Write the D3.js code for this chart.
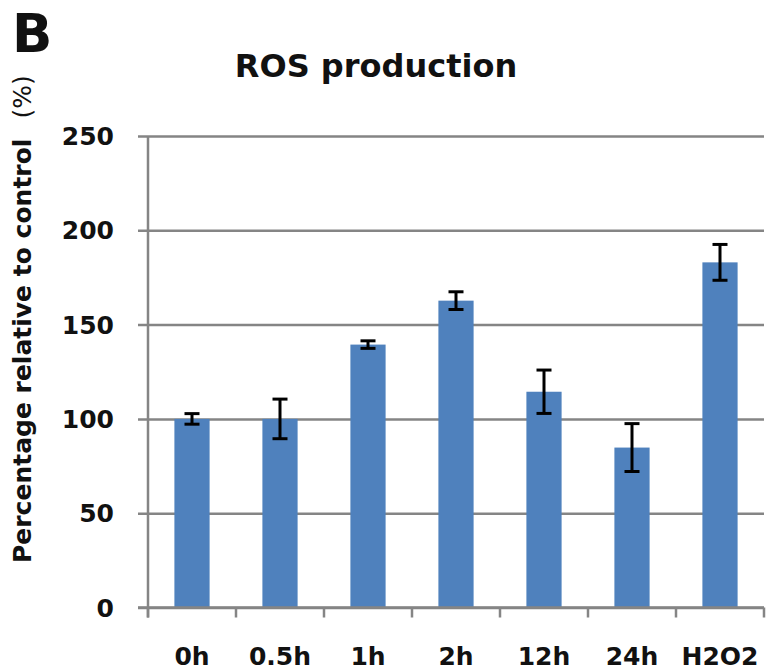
<!DOCTYPE html>
<html>
<head>
<meta charset="utf-8">
<script src="https://cdn.jsdelivr.net/npm/d3@7/dist/d3.min.js"></script>
<style>
  html, body { margin: 0; padding: 0; background: #fff; }
  svg { display: block; }
</style>
</head>
<body>
<svg id="chart" width="767" height="670"></svg>
<script>
const categories = ["0h", "0.5h", "1h", "2h", "12h", "24h", "H2O2"];
const values = [100, 100, 139.4, 162.7, 114.4, 84.8, 183];
const errors = [2.8, 10.5, 2, 4.7, 11.5, 12.7, 9.5];
const yTicks = [0, 50, 100, 150, 200, 250];

(function () {
const svg = d3.select("#chart");
const pLeft = 148, pRight = 764, pTop = 136, pBottom = 607.5;
const gridColor = "#858585";
const barColor = "#4f81bd";
const fontFam = "'DejaVu Sans', sans-serif";

const x = d3.scaleBand().domain(categories).range([pLeft, pRight])
  .paddingInner(0.6).paddingOuter(0.3);
const y = d3.scaleLinear().domain([0, 250]).range([pBottom, pTop]);

// Gridlines + y axis ticks
const yAxis = d3.axisLeft(y).tickValues(yTicks).tickSize(-(pRight - pLeft)).tickPadding(0).tickFormat("");
const gy = svg.append("g").attr("transform", `translate(${pLeft},0)`).call(yAxis);
gy.select(".domain").remove();
gy.selectAll(".tick line").attr("stroke", gridColor).attr("stroke-width", 2.5)
  .attr("x1", -10);

// y tick labels
svg.append("g").selectAll("text").data(yTicks).join("text")
  .attr("x", 114).attr("y", d => y(d)).attr("dy", "0.36em")
  .attr("text-anchor", "end")
  .attr("font-family", fontFam).attr("font-weight", "bold").attr("font-size", 25)
  .attr("fill", "#111").text(d => d);

// Bars
svg.append("g").selectAll("rect").data(categories).join("rect")
  .attr("x", (d) => x(d))
  .attr("width", x.bandwidth())
  .attr("y", (d, i) => y(values[i]))
  .attr("height", (d, i) => y(0) - y(values[i]))
  .attr("fill", barColor);

// Axes lines
svg.append("line").attr("x1", pLeft).attr("x2", pLeft).attr("y1", pTop).attr("y2", pBottom + 10)
  .attr("stroke", gridColor).attr("stroke-width", 2.5);
svg.append("line").attr("x1", pLeft - 10).attr("x2", pRight).attr("y1", pBottom).attr("y2", pBottom)
  .attr("stroke", gridColor).attr("stroke-width", 2.5);

// x category boundary ticks
const step = x.step();
const bounds = d3.range(categories.length + 1).map(i => x(categories[0]) - x.paddingOuter() * step + i * step);
svg.append("g").selectAll("line").data(bounds).join("line")
  .attr("x1", d => d).attr("x2", d => d)
  .attr("y1", pBottom).attr("y2", pBottom + 10)
  .attr("stroke", gridColor).attr("stroke-width", 2.5);

// Error bars
const eb = svg.append("g").attr("stroke", "#000").attr("stroke-width", 3);
categories.forEach((c, i) => {
  const cx = x(c) + x.bandwidth() / 2;
  const hi = y(values[i] + errors[i]), lo = y(values[i] - errors[i]);
  eb.append("line").attr("x1", cx).attr("x2", cx).attr("y1", hi).attr("y2", lo);
  eb.append("line").attr("x1", cx - 7.5).attr("x2", cx + 7.5).attr("y1", hi).attr("y2", hi);
  eb.append("line").attr("x1", cx - 7.5).attr("x2", cx + 7.5).attr("y1", lo).attr("y2", lo);
});

// x labels
svg.append("g").selectAll("text").data(categories).join("text")
  .attr("x", d => x(d) + x.bandwidth() / 2).attr("y", 665)
  .attr("text-anchor", "middle")
  .attr("font-family", fontFam).attr("font-weight", "bold").attr("font-size", 25)
  .attr("fill", "#111").text(d => d);

// Title
svg.append("text").attr("x", 376).attr("y", 77).attr("text-anchor", "middle")
  .attr("font-family", fontFam).attr("font-weight", "bold").attr("font-size", 32)
  .attr("fill", "#111").text("ROS production");

// Panel letter
svg.append("text").attr("x", 12).attr("y", 52)
  .attr("font-family", fontFam).attr("font-weight", "bold").attr("font-size", 53)
  .attr("fill", "#111").text("B");

// Y axis title
const yt = svg.append("text").attr("transform", "translate(31,563) rotate(-90)")
  .attr("font-family", fontFam).attr("font-size", 25).attr("fill", "#111");
yt.append("tspan").attr("font-weight", "bold").text("Percentage relative to control");
yt.append("tspan").attr("dx", 20).attr("font-weight", "normal").text("(%)");
})();
</script>
</body>
</html>
